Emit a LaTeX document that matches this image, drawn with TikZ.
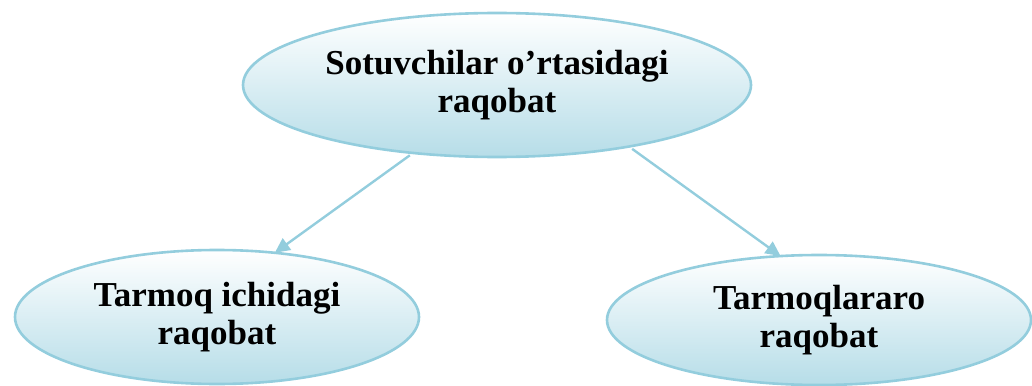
\documentclass[tikz,border=0pt]{standalone}
\usepackage{fontspec}
\setmainfont{Liberation Serif}
\usepackage{tikz}
\usetikzlibrary{positioning,calc,shapes.geometric,arrows.meta}
\definecolor{aqualine}{RGB}{147,205,221}
\definecolor{aquafill}{RGB}{182,221,232}

\begin{document}
\begin{tikzpicture}[x=0.5pt,y=-0.5pt,
				every node/.style={bubble},
				bubble/.style={ellipse,draw=aqualine,line width=1.3pt,inner sep=0pt,outer sep=0pt,
					top color=white,bottom color=aquafill,align=center,
					font=\fontsize{17.5}{19}\selectfont\bfseries},
				link/.style={draw=aqualine,line width=1.2pt,-{Triangle[length=7.5pt,width=7pt]}}]
				\useasboundingbox (0,0) rectangle (1032,385);
				\node (TOP)   [minimum width=254pt,minimum height=72pt] at (497,85)
					{Sotuvchilar o’rtasidagi\\raqobat};
				\node (INTRA) [minimum width=202pt,minimum height=67pt] at ([shift={(-280,232)}]TOP)
					{Tarmoq ichidagi\\raqobat};
				\node (INTER) [minimum width=212pt,minimum height=65pt] at ([shift={(322,235)}]TOP)
					{Tarmoqlararo\\raqobat};
				
				\draw[link,shorten <=2pt] (TOP.219) -- (INTRA.48);
				\draw[link,shorten <=2pt] (TOP.335) -- (INTER.121);
			\end{tikzpicture}
\end{document}
